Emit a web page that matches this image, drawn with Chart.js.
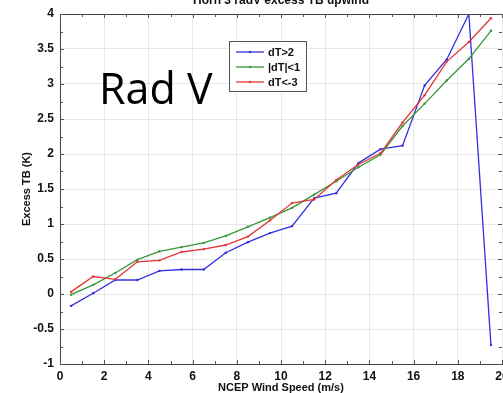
<!DOCTYPE html>
<html>
<head>
<meta charset="utf-8">
<script src="https://cdn.jsdelivr.net/npm/chart.js@4/dist/chart.umd.min.js"></script>
<style>
  html, body { margin: 0; padding: 0; background: #fff; overflow: hidden; }
  #wrap { position: relative; width: 503px; height: 393px; overflow: hidden; }
  #chart { position: absolute; left: 0; top: 0; }
</style>
</head>
<body>
<div id="wrap"><canvas id="chart" width="520" height="393"></canvas></div>
<script>
// Data
const windSpeed = [0.5, 1.5, 2.5, 3.5, 4.5, 5.5, 6.5, 7.5, 8.5, 9.5,
                   10.5, 11.5, 12.5, 13.5, 14.5, 15.5, 16.5, 17.5, 18.5, 19.5];
const dtWarm = [-0.17, 0.01, 0.20, 0.20, 0.33, 0.35, 0.35, 0.59, 0.74, 0.87,
                0.97, 1.37, 1.44, 1.87, 2.07, 2.12, 2.98, 3.35, 4.00, -0.73];
const dtNeutral = [-0.01, 0.13, 0.30, 0.49, 0.61, 0.67, 0.73, 0.83, 0.96, 1.09,
                   1.23, 1.42, 1.61, 1.81, 1.99, 2.40, 2.72, 3.05, 3.36, 3.76];
const dtCold = [0.03, 0.25, 0.21, 0.46, 0.48, 0.60, 0.64, 0.70, 0.82, 1.05,
                1.30, 1.35, 1.63, 1.85, 2.01, 2.45, 2.84, 3.32, 3.60, 3.94];
const seriesLabels = ['dT>2', '|dT|<1', 'dT<-3'];

const xTicks = [0, 2, 4, 6, 8, 10, 12, 14, 16, 18, 20];
const yTicks = [-1, -0.5, 0, 0.5, 1, 1.5, 2, 2.5, 3, 3.5, 4];

const FONT = '"Liberation Sans", Arial, sans-serif';

function toPoints(values) {
    return windSpeed.map((x, i) => ({x: x, y: values[i]}));
}

function lineSet(label, values, color, order) {
    return {
        label: label,
        data: toPoints(values),
        borderColor: color,
        backgroundColor: color,
        borderWidth: 1.3,
        pointRadius: 1.2,
        pointHoverRadius: 1.2,
        pointBorderWidth: 0,
        tension: 0,
        order: order
    };
}

// Title, "Rad V" note, box top edge, inward ticks and the legend box
const decorations = {
    id: 'decorations',
    afterDatasetsDraw(chart) {
        const ctx = chart.ctx;
        const area = chart.chartArea;
        const xs = chart.scales.x;
        const ys = chart.scales.y;
        ctx.save();

        // top edge of the box
        ctx.strokeStyle = '#444';
        ctx.lineWidth = 1;
        ctx.beginPath();
        ctx.moveTo(area.left, area.top + 0.5);
        ctx.lineTo(area.right, area.top + 0.5);
        ctx.stroke();

        // inward ticks: x every 1, y every 0.25
        ctx.strokeStyle = '#555';
        ctx.beginPath();
        for (let v = xTicks[0]; v <= xTicks[xTicks.length - 1]; v += 1) {
            const px = Math.round(xs.getPixelForValue(v)) + 0.5;
            const len = v % 2 === 0 ? 4 : 3;
            ctx.moveTo(px, area.bottom);
            ctx.lineTo(px, area.bottom - len);
            ctx.moveTo(px, area.top);
            ctx.lineTo(px, area.top + len);
        }
        for (let v = yTicks[0]; v <= yTicks[yTicks.length - 1] + 1e-9; v += 0.25) {
            const py = Math.round(ys.getPixelForValue(v)) + 0.5;
            const len = Math.abs(v * 2 - Math.round(v * 2)) < 1e-9 ? 4 : 3;
            ctx.moveTo(area.left, py);
            ctx.lineTo(area.left + len, py);
            ctx.moveTo(area.right, py);
            ctx.lineTo(area.right - len, py);
        }
        ctx.stroke();

        // title (mostly cut off at the top of the picture)
        ctx.fillStyle = '#111';
        ctx.font = 'bold 12px ' + FONT;
        ctx.textAlign = 'center';
        ctx.textBaseline = 'alphabetic';
        ctx.fillText('Horn 3 radV excess TB upwind', 281, 4);

        // big annotation
        ctx.fillStyle = '#000';
        ctx.font = '43px "Open Sans", sans-serif';
        ctx.textAlign = 'left';
        ctx.fillText('Rad V', 99, 104);

        // legend box
        const box = {x: 229.5, y: 41.5, w: 77, h: 50};
        ctx.fillStyle = '#fff';
        ctx.fillRect(box.x, box.y, box.w, box.h);
        ctx.strokeStyle = '#555';
        ctx.lineWidth = 1;
        ctx.strokeRect(box.x, box.y, box.w, box.h);
        ctx.font = 'bold 11px ' + FONT;
        ctx.textBaseline = 'middle';
        chart.data.datasets.forEach((ds, i) => {
            const y = 52 + i * 15;
            ctx.strokeStyle = ds.borderColor;
            ctx.lineWidth = 1.3;
            ctx.beginPath();
            ctx.moveTo(236, y);
            ctx.lineTo(264, y);
            ctx.stroke();
            ctx.fillStyle = ds.borderColor;
            ctx.beginPath();
            ctx.arc(250, y, 1.2, 0, Math.PI * 2);
            ctx.fill();
            ctx.fillStyle = '#111';
            ctx.fillText(ds.label, 268, y + 0.5);
        });
        ctx.restore();
    }
};

const ctx = document.getElementById('chart').getContext('2d');
new Chart(ctx, {
    type: 'line',
    data: {
        datasets: [
            lineSet(seriesLabels[0], dtWarm, 'rgb(48, 48, 225)', 3),
            lineSet(seriesLabels[1], dtNeutral, 'rgb(55, 150, 55)', 2),
            lineSet(seriesLabels[2], dtCold, 'rgb(228, 55, 55)', 1)
        ]
    },
    options: {
        responsive: false,
        devicePixelRatio: 1,
        animation: false,
        layout: {
            padding: {top: 14, left: 21, right: 18, bottom: 0}
        },
        plugins: {
            legend: {display: false},
            title: {display: false},
            tooltip: {enabled: false}
        },
        scales: {
            x: {
                type: 'linear',
                min: xTicks[0],
                max: xTicks[xTicks.length - 1],
                afterFit: (scale) => { scale.height = 29; },
                afterBuildTicks: (scale) => { scale.ticks = xTicks.map(v => ({value: v})); },
                ticks: {
                    color: '#111',
                    padding: 5,
                    maxRotation: 0,
                    autoSkip: false,
                    callback: (v) => String(v),
                    font: {family: FONT, size: 12, weight: 'bold'}
                },
                grid: {
                    color: 'rgba(0, 0, 0, 0.09)',
                    lineWidth: 1,
                    drawTicks: false
                },
                border: {display: true, color: '#444', width: 1},
                title: {
                    display: true,
                    text: 'NCEP Wind Speed (m/s)',
                    color: '#111',
                    padding: 0,
                    font: {family: FONT, size: 11, weight: 'bold', lineHeight: 1}
                }
            },
            y: {
                type: 'linear',
                min: yTicks[0],
                max: yTicks[yTicks.length - 1],
                afterFit: (scale) => { scale.width = 39; },
                afterBuildTicks: (scale) => { scale.ticks = yTicks.map(v => ({value: v})); },
                ticks: {
                    color: '#111',
                    padding: 6,
                    autoSkip: false,
                    callback: (v) => String(v),
                    font: {family: FONT, size: 12, weight: 'bold'}
                },
                grid: {
                    color: 'rgba(0, 0, 0, 0.09)',
                    lineWidth: 1,
                    drawTicks: false
                },
                border: {display: true, color: '#444', width: 1},
                title: {
                    display: true,
                    text: 'Excess TB (K)',
                    color: '#111',
                    padding: 0,
                    font: {family: FONT, size: 11, weight: 'bold', lineHeight: 1}
                }
            }
        }
    },
    plugins: [decorations]
});
</script>
</body>
</html>
